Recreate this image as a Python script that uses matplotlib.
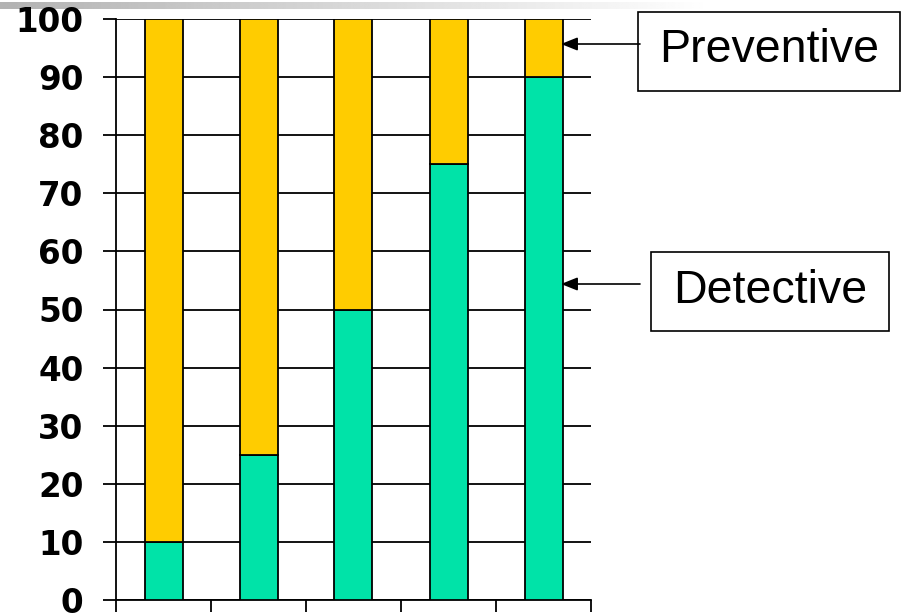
import numpy as np
import matplotlib
matplotlib.use("Agg")
import matplotlib.pyplot as plt
from matplotlib.patches import Rectangle

# Data
categories = ["1", "2", "3", "4", "5"]
detective = [10, 25, 50, 75, 90]
preventive = [90, 75, 50, 25, 10]
y_ticks = [0, 10, 20, 30, 40, 50, 60, 70, 80, 90, 100]
labels = ["Preventive", "Detective"]

GREEN = "#00E3A8"
YELLOW = "#FFCC00"

W, H = 901, 615
fig = plt.figure(figsize=(W / 100, H / 100), dpi=100)

# top gradient decoration
gax = fig.add_axes([0, 1 - 9.5 / H, 1, 7.5 / H])
grad = np.clip(np.linspace(0.70, 1.08, 512), 0, 1)
gax.imshow(np.tile(grad, (2, 1)), cmap="gray", vmin=0, vmax=1, aspect="auto")
gax.axis("off")

ax = fig.add_axes([116 / W, 1 - 600 / H, (591 - 116) / W, (600 - 19) / H])
x = np.arange(len(categories)) + 0.5
ax.bar(x, detective, width=0.4, color=GREEN, edgecolor="black", linewidth=1.3, zorder=3)
ax.bar(x, preventive, bottom=detective, width=0.4, color=YELLOW, edgecolor="black",
       linewidth=1.3, zorder=3)

ax.set_xlim(0, len(categories))
ax.set_ylim(0, 100)
ax.set_yticks(y_ticks)
ax.set_xticks(np.arange(len(categories) + 1))
ax.set_xticklabels([])
ax.grid(axis="y", color="black", linewidth=1.3, zorder=1)
for s in ["top", "right"]:
    ax.spines[s].set_visible(False)
for s in ["left", "bottom"]:
    ax.spines[s].set_linewidth(1.3)
ax.tick_params(axis="y", length=9.4, width=1.3, pad=14, labelsize=23.5)
ax.tick_params(axis="x", length=8.6, width=1.3)
for t in ax.get_yticklabels():
    t.set_fontweight("bold")
    t.set_fontfamily("DejaVu Sans")

def fx(px):
    return px / W
def fy(py):
    return 1 - py / H

# arrows
for ypix in (44, 284):
    fig.add_artist(plt.Annotation(
        "", xy=(fx(561), fy(ypix)), xycoords="figure fraction",
        xytext=(fx(640), fy(ypix)), textcoords="figure fraction",
        arrowprops=dict(arrowstyle="-|>,head_length=1.0,head_width=0.4",
                        color="black", lw=1.2, shrinkA=0, shrinkB=0)))

# label boxes
boxes = [(638, 12, 900, 91), (651, 252, 889, 331)]
for (x0, y0, x1, y1), lab in zip(boxes, labels):
    fig.patches.append(Rectangle((fx(x0), fy(y1)), (x1 - x0) / W, (y1 - y0) / H,
                                 transform=fig.transFigure, fill=False,
                                 edgecolor="black", linewidth=1.2))
    fig.text(fx((x0 + x1) / 2), fy((y0 + y1) / 2 - 1), lab, ha="center", va="center",
             fontsize=33.5, family="Liberation Sans")

fig.savefig("out.png", dpi=100)
